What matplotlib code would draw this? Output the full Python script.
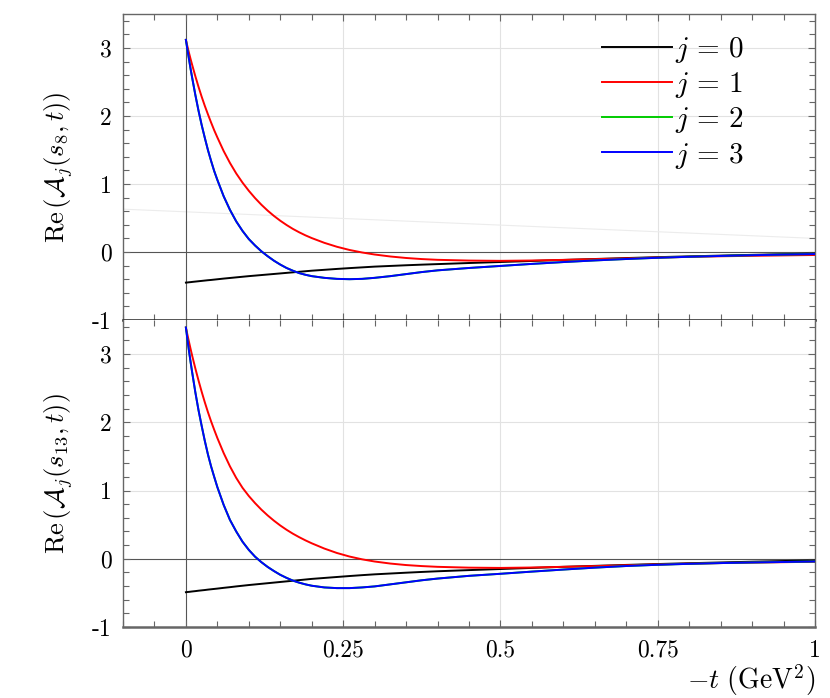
import matplotlib
matplotlib.use("Agg")
import matplotlib.pyplot as plt
from matplotlib.ticker import MultipleLocator, FixedLocator, FixedFormatter

plt.rcParams['mathtext.fontset'] = 'cm'
plt.rcParams['axes.unicode_minus'] = False

t_vals = [0, 0.0025, 0.005, 0.0075, 0.01, 0.015, 0.02, 0.025, 0.03, 0.035,
          0.04, 0.045, 0.05, 0.06, 0.07, 0.08, 0.09, 0.1, 0.11, 0.12, 0.13,
          0.14, 0.15, 0.16, 0.17, 0.18, 0.19, 0.2, 0.22, 0.24, 0.26, 0.28,
          0.3, 0.325, 0.35, 0.375, 0.4, 0.45, 0.5, 0.55, 0.6, 0.65, 0.7,
          0.75, 0.8, 0.85, 0.9, 0.95, 1.0]

# upper panel: Re A_j(s_8, t)
top_j0 = [-0.45, -0.448, -0.445, -0.443, -0.44, -0.435, -0.43, -0.425, -0.42,
          -0.415, -0.411, -0.406, -0.401, -0.391, -0.382, -0.373, -0.364,
          -0.355, -0.347, -0.339, -0.331, -0.323, -0.315, -0.307, -0.299,
          -0.291, -0.283, -0.275, -0.262, -0.249, -0.237, -0.226, -0.215,
          -0.205, -0.195, -0.186, -0.178, -0.162, -0.147, -0.132, -0.117,
          -0.103, -0.089, -0.076, -0.064, -0.053, -0.042, -0.032, -0.022]
top_j1 = [3.12, 3.02, 2.925, 2.835, 2.75, 2.585, 2.43, 2.285, 2.15, 2.025,
          1.905, 1.79, 1.685, 1.485, 1.31, 1.155, 1.02, 0.90, 0.792, 0.695,
          0.608, 0.53, 0.46, 0.397, 0.34, 0.29, 0.245, 0.205, 0.135, 0.077,
          0.03, -0.007, -0.037, -0.066, -0.088, -0.104, -0.115, -0.126, -0.13,
          -0.125, -0.116, -0.105, -0.094, -0.082, -0.072, -0.063, -0.056,
          -0.05, -0.044]
top_j3 = [3.12, 2.97, 2.83, 2.69, 2.56, 2.31, 2.08, 1.87, 1.68, 1.50, 1.34,
          1.19, 1.06, 0.82, 0.62, 0.45, 0.31, 0.19, 0.095, 0.01, -0.062,
          -0.128, -0.185, -0.235, -0.275, -0.31, -0.335, -0.355, -0.38,
          -0.395, -0.40, -0.395, -0.38, -0.355, -0.325, -0.295, -0.27, -0.235,
          -0.205, -0.175, -0.148, -0.124, -0.103, -0.085, -0.07, -0.058,
          -0.047, -0.038, -0.03]
top_j2 = list(top_j3)  # j=2 lies right under j=3

# lower panel: Re A_j(s_13, t)
bot_j0 = [-0.49, -0.487, -0.485, -0.482, -0.479, -0.474, -0.468, -0.463,
          -0.458, -0.452, -0.447, -0.442, -0.437, -0.426, -0.416, -0.405,
          -0.395, -0.385, -0.376, -0.367, -0.358, -0.349, -0.34, -0.331,
          -0.322, -0.313, -0.304, -0.295, -0.281, -0.267, -0.253, -0.24,
          -0.228, -0.216, -0.204, -0.193, -0.183, -0.166, -0.15, -0.134,
          -0.118, -0.104, -0.09, -0.077, -0.065, -0.054, -0.043, -0.033, -0.024]
bot_j1 = [3.39, 3.28, 3.175, 3.073, 2.975, 2.79, 2.615, 2.45, 2.295, 2.15,
          2.015, 1.89, 1.77, 1.55, 1.355, 1.185, 1.04, 0.92, 0.815, 0.72,
          0.635, 0.558, 0.488, 0.425, 0.368, 0.317, 0.27, 0.227, 0.15, 0.085,
          0.033, -0.008, -0.04, -0.07, -0.092, -0.107, -0.118, -0.13, -0.134,
          -0.128, -0.118, -0.107, -0.095, -0.083, -0.072, -0.063, -0.056,
          -0.05, -0.044]
bot_j3 = [3.39, 3.21, 3.04, 2.88, 2.73, 2.44, 2.18, 1.95, 1.73, 1.53, 1.355,
          1.20, 1.05, 0.79, 0.57, 0.40, 0.25, 0.13, 0.03, -0.05, -0.12,
          -0.18, -0.235, -0.28, -0.32, -0.35, -0.375, -0.395, -0.42, -0.43,
          -0.43, -0.42, -0.405, -0.375, -0.345, -0.315, -0.29, -0.25, -0.22,
          -0.188, -0.158, -0.13, -0.106, -0.088, -0.074, -0.063, -0.054,
          -0.047, -0.04]
bot_j2 = list(bot_j3)

# faint straight line in the upper panel
faint_x = [-0.1, 1.0]
faint_y = [0.63, 0.20]

x_ticks = [0, 0.25, 0.5, 0.75, 1]
x_labels = ['0', '0.25', '0.5', '0.75', '1']
y_ticks = [-1, 0, 1, 2, 3]
y_labels = ['-1', '0', '1', '2', '3']

colors = ['#000000', '#ff0000', '#00cc00', '#0000ff']
labels = [r'$j\,=\,0$', r'$j\,=\,1$', r'$j\,=\,2$', r'$j\,=\,3$']

W, H = 830, 698
fig = plt.figure(figsize=(W / 100, H / 100), dpi=100)
left = 123 / W
width = (815 - 123) / W
ax_top = fig.add_axes([left, 1 - 320 / H, width, 306 / H])
ax_bot = fig.add_axes([left, 1 - 627 / H, width, 307 / H])

for ax, series, ylab in [
    (ax_top, [top_j0, top_j1, top_j2, top_j3], r'$\mathrm{Re}\,(\mathcal{A}_j(s_8,t))$'),
    (ax_bot, [bot_j0, bot_j1, bot_j2, bot_j3], r'$\mathrm{Re}\,(\mathcal{A}_j(s_{13},t))$'),
]:
    ax.set_xlim(-0.1, 1.0)
    ax.set_ylim(-1, 3.5)
    for xv in [0.25, 0.5, 0.75]:
        ax.axvline(xv, color='#e2e2e2', lw=0.8, zorder=0)
    for yv in [1, 2, 3]:
        ax.axhline(yv, color='#e2e2e2', lw=0.8, zorder=0)
    ax.axhline(0, color='#555555', lw=0.8, zorder=1)
    ax.axvline(0, color='#555555', lw=0.8, zorder=1)

    for vals, c, lab in zip(series, colors, labels):
        ax.plot(t_vals, vals, color=c, lw=1.4, label=lab, zorder=3)

    ax.xaxis.set_major_locator(FixedLocator(x_ticks))
    ax.xaxis.set_minor_locator(MultipleLocator(0.05))
    ax.yaxis.set_major_locator(FixedLocator(y_ticks))
    ax.yaxis.set_major_formatter(FixedFormatter(y_labels))
    ax.yaxis.set_minor_locator(MultipleLocator(0.2))
    ax.tick_params(which='both', direction='in', top=True, right=True,
                   color='#666666', width=0.8)
    ax.tick_params(which='major', length=5)
    ax.tick_params(which='minor', length=4)
    ax.tick_params(axis='y', pad=8)
    for lab in ax.get_yticklabels():
        lab.set_fontfamily('cmr10')
        lab.set_fontsize(17)
    for sp in ax.spines.values():
        sp.set_color('#666666')
        sp.set_linewidth(1.0)
    ax.set_ylabel(ylab, fontsize=19, labelpad=12)

ax_top.plot(faint_x, faint_y, color='#ececec', lw=0.8, zorder=0.5)

ax_top.set_xticklabels([])
ax_top.spines['bottom'].set_color('#222222')
ax_top.spines['bottom'].set_linewidth(1.8)
ax_bot.spines['top'].set_visible(False)
ax_bot.spines['bottom'].set_linewidth(1.8)

ax_bot.xaxis.set_major_formatter(FixedFormatter(x_labels))
ax_bot.tick_params(axis='x', pad=9)
for lab in ax_bot.get_xticklabels():
    lab.set_fontfamily('cmr10')
    lab.set_fontsize(17)

fig.text(815 / W, 1 - 680 / H, r'$-t\ (\mathrm{GeV}^2)$', fontsize=20,
         ha='right', va='center')

ax_top.legend(loc='upper right', bbox_to_anchor=(0.897, 0.932),
              frameon=False, fontsize=21, handlelength=2.4,
              handletextpad=0.1, labelspacing=0.18, borderaxespad=0.0,
              borderpad=0.0)

fig.savefig('out.png', dpi=100, facecolor='white')
